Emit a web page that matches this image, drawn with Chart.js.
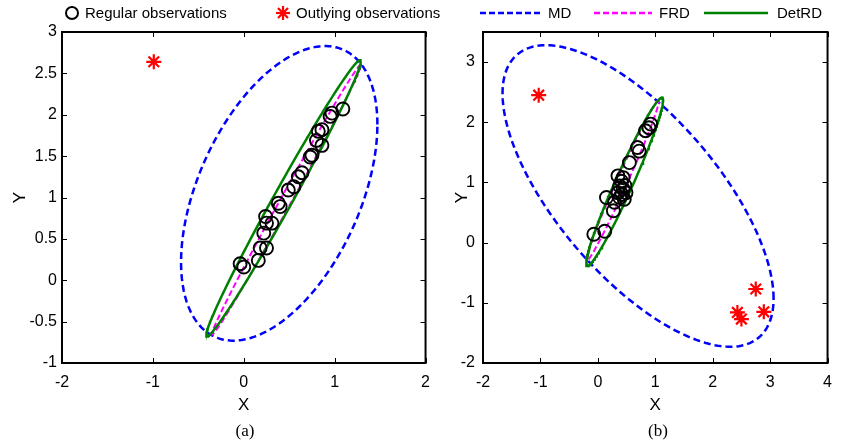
<!DOCTYPE html>
<html><head><meta charset="utf-8">
<script src="https://cdn.jsdelivr.net/npm/chart.js@4/dist/chart.umd.min.js"></script>
<style>
html,body{margin:0;padding:0;background:#fff;}
#wrap{position:relative;width:842px;height:446px;overflow:hidden;font-family:"Liberation Sans",Arial,sans-serif;}
canvas{position:absolute;top:0;}
.lg{position:absolute;top:4px;font-size:15px;line-height:17px;color:#000;white-space:nowrap;}
.mk{position:absolute;top:0;}
.cap{position:absolute;top:421px;font-family:"Liberation Serif","Times New Roman",serif;font-size:17px;line-height:20px;transform:translateX(-50%);}
</style></head>
<body><div id="wrap">
<canvas id="ca" width="440" height="446" style="left:0;width:440px;height:446px"></canvas>
<canvas id="cb" width="402" height="446" style="left:440px;width:402px;height:446px"></canvas>
<svg class="mk" width="842" height="28" style="left:0">
  <circle cx="72" cy="13" r="6" fill="none" stroke="#000" stroke-width="2"/>
  <g stroke="#ff0000" stroke-width="2.2">
    <line x1="283" y1="6" x2="283" y2="20"/><line x1="276" y1="13" x2="290" y2="13"/>
    <line x1="278" y1="8" x2="288" y2="18"/><line x1="288" y1="8" x2="278" y2="18"/>
  </g>
  <line x1="480" y1="13" x2="541" y2="13" stroke="#0000ff" stroke-width="2.5" stroke-dasharray="6,3"/>
  <line x1="594" y1="13" x2="652" y2="13" stroke="#ff00ff" stroke-width="2.5" stroke-dasharray="6,3"/>
  <line x1="704" y1="13" x2="768" y2="13" stroke="#008000" stroke-width="2.5"/>
</svg>
<div class="lg" style="left:85px">Regular observations</div>
<div class="lg" style="left:296px">Outlying observations</div>
<div class="lg" style="left:548px">MD</div>
<div class="lg" style="left:659px">FRD</div>
<div class="lg" style="left:777px">DetRD</div>
<div class="cap" style="left:245px">(a)</div>
<div class="cap" style="left:658px">(b)</div>
</div>
<script>
// ---------- Panel (a) data ----------
const regularAX = [0.00,-0.04,0.16,0.18,0.25,0.22,0.25,0.24,0.31,0.38,0.40,0.49,0.55,0.60,0.64,0.73,0.75,0.80,0.86,0.82,0.86,0.95,0.97,1.09];
const regularAY = [0.16,0.20,0.24,0.39,0.39,0.57,0.69,0.77,0.69,0.93,0.89,1.09,1.13,1.25,1.30,1.49,1.51,1.69,1.63,1.80,1.82,1.98,2.02,2.07];
const outlierAX = [-0.99];
const outlierAY = [2.64];
// ellipse parameters: [centerX, centerY, sdX, sdY, correlation]
const mdA    = [0.39, 1.05, 1.08, 1.78, 0.468];
const frdA   = [0.47, 0.975, 0.82, 1.63, 0.9965];
const detrdA = [0.437, 0.99, 0.85, 1.67, 0.990];
const xTicksA = [-2,-1,0,1,2];
const yTicksA = [-1,-0.5,0,0.5,1,1.5,2,2.5,3];

// ---------- Panel (b) data ----------
const regularBX = [-0.07,0.12,0.15,0.27,0.29,0.35,0.38,0.41,0.44,0.44,0.49,0.46,0.38,0.35,0.55,0.69,0.72,0.83,0.89,0.92,0.42,0.47];
const regularBY = [0.14,0.19,0.75,0.53,0.67,0.83,0.94,1.02,0.89,1.08,0.83,0.72,0.75,1.11,1.33,1.58,1.52,1.86,1.91,1.97,0.80,0.95];
const outlierBX = [-1.03,2.75,2.43,2.50,2.89];
const outlierBY = [2.45,-0.77,-1.16,-1.27,-1.15];
const mdB    = [0.70, 0.775, 2.36, 2.505, -0.68];
const frdB   = [0.43, 1.03, 0.63, 1.33, 0.987];
const detrdB = [0.466, 1.01, 0.67, 1.40, 0.968];
const xTicksB = [-2,-1,0,1,2,3,4];
const yTicksB = [-2,-1,0,1,2,3];

function pts(xs, ys){ return xs.map((x,i)=>({x:x, y:ys[i]})); }
function ellipse(p){
  const [cx,cy,sx,sy,r] = p, out = [], n = 240;
  for(let i=0;i<=n;i++){
    const t = 2*Math.PI*i/n;
    out.push({x: cx + sx*Math.cos(t), y: cy + sy*(r*Math.cos(t) + Math.sqrt(1-r*r)*Math.sin(t))});
  }
  return out;
}

const framePlugin = {
  id:'frame',
  afterDraw(chart){
    const {ctx, chartArea:a, scales:{x, y}} = chart;
    ctx.save();
    ctx.strokeStyle = '#000';
    ctx.lineWidth = 1;
    ctx.beginPath();
    x.ticks.forEach(t=>{
      const px = Math.round(x.getPixelForValue(t.value))+0.5;
      ctx.moveTo(px, a.bottom); ctx.lineTo(px, a.bottom-5);
      ctx.moveTo(px, a.top); ctx.lineTo(px, a.top+5);
    });
    y.ticks.forEach(t=>{
      const py = Math.round(y.getPixelForValue(t.value))+0.5;
      ctx.moveTo(a.left, py); ctx.lineTo(a.left+5, py);
      ctx.moveTo(a.right, py); ctx.lineTo(a.right-5, py);
    });
    ctx.stroke();
    ctx.lineWidth = 2;
    ctx.strokeRect(a.left, a.top, a.right-a.left, a.bottom-a.top);
    ctx.restore();
  }
};

const tickFont = {family:'"Liberation Sans", Arial, sans-serif', size:16};
const titleFont = {family:'"Liberation Sans", Arial, sans-serif', size:17};
const fmt = v => String(v);

function makeChart(id, reg, out, md, frd, det, xr, yr, xt, yt, yAxisW, rightPad, yTitlePad, ytPad){
  return new Chart(document.getElementById(id), {
    type:'scatter',
    data:{datasets:[
      {label:'MD', data:ellipse(md), showLine:true, pointRadius:0, borderColor:'#0000ff', borderWidth:2.5, borderDash:[7,4], fill:false, order:5},
      {label:'FRD', data:ellipse(frd), showLine:true, pointRadius:0, borderColor:'#ff00ff', borderWidth:2, borderDash:[6,3], fill:false, order:4},
      {label:'DetRD', data:ellipse(det), showLine:true, pointRadius:0, borderColor:'#008000', borderWidth:2.5, fill:false, order:3},
      {label:'Regular observations', data:reg, pointStyle:'circle', pointRadius:6.5, pointBorderWidth:1.9, borderColor:'#000', backgroundColor:'rgba(0,0,0,0)', order:2},
      {label:'Outlying observations', data:out, pointStyle:'star', pointRadius:7.5, pointBorderWidth:2.2, borderColor:'#ff0000', backgroundColor:'#ff0000', order:1}
    ]},
    options:{
      responsive:false, animation:false, devicePixelRatio:1,
      layout:{padding:{top:32, right:rightPad, left:0, bottom:0}},
      plugins:{legend:{display:false}, tooltip:{enabled:false}},
      scales:{
        x:{type:'linear', min:xr[0], max:xr[1],
           grid:{display:false, drawTicks:false}, border:{display:false},
           afterBuildTicks:s=>{ s.ticks = xt.map(v=>({value:v})); },
           afterFit:s=>{ s.height = 83; },
           ticks:{font:tickFont, color:'#000', padding:10, maxRotation:0, autoSkip:false, callback:fmt},
           title:{display:true, text:'X', font:titleFont, color:'#000', padding:{top:0, bottom:30}}},
        y:{type:'linear', min:yr[0], max:yr[1],
           grid:{display:false, drawTicks:false}, border:{display:false},
           afterBuildTicks:s=>{ s.ticks = yt.map(v=>({value:v})); },
           afterFit:s=>{ s.width = yAxisW; },
           ticks:{font:tickFont, color:'#000', padding:ytPad, autoSkip:false, includeBounds:false, callback:fmt},
           title:{display:true, text:'Y', font:titleFont, color:'#000', padding:{top:yTitlePad, bottom:0}}}
      }
    },
    plugins:[framePlugin]
  });
}

makeChart('ca', pts(regularAX, regularAY), pts(outlierAX, outlierAY), mdA, frdA, detrdA,
          [-2,2], [-1,3], xTicksA, yTicksA, 62, 12, 10, 5);
makeChart('cb', pts(regularBX, regularBY), pts(outlierBX, outlierBY), mdB, frdB, detrdB,
          [-2,4], [-2,3.5], xTicksB, yTicksB, 43, 5, 12, 8);
</script>
</body></html>
